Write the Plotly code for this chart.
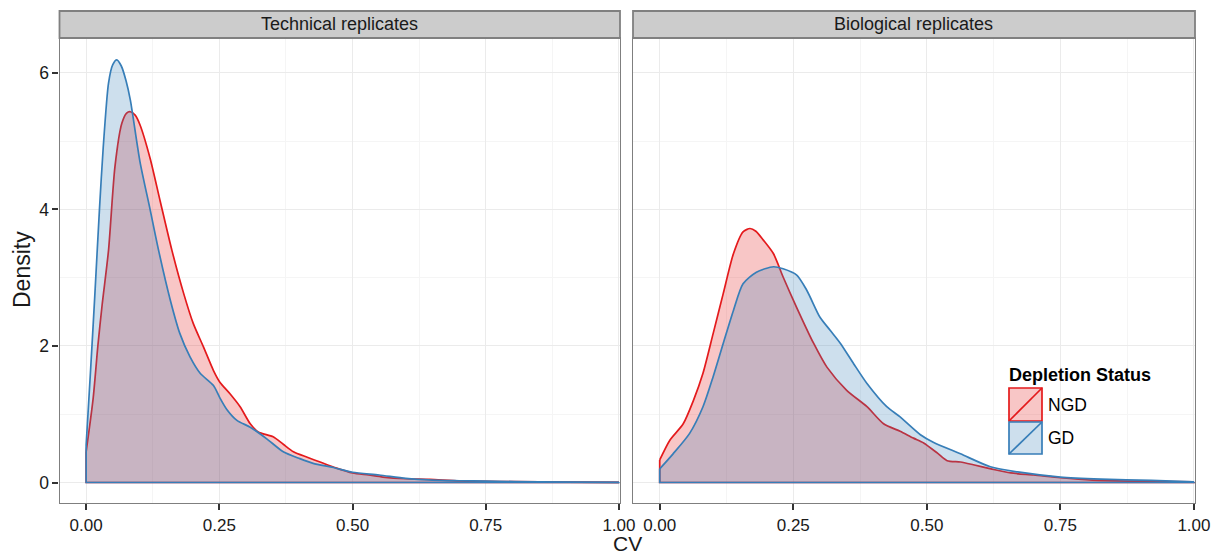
import plotly.graph_objects as go

W, H = 1215, 555
FONT = "Liberation Sans, Arial, Helvetica, sans-serif"

# ---------------- data ----------------
groups = ["NGD", "GD"]
panels = ["Technical replicates", "Biological replicates"]
x_ticks = [0.0, 0.25, 0.5, 0.75, 1.0]
x_tick_labels = ["0.00", "0.25", "0.50", "0.75", "1.00"]
y_ticks = [0, 2, 4, 6]
y_tick_labels = ["0", "2", "4", "6"]

tech_ngd_cv = [0.0, 0.013, 0.022, 0.03, 0.042, 0.054, 0.067, 0.076, 0.083, 0.092, 0.101, 0.12,
               0.139, 0.161, 0.183, 0.201, 0.22, 0.239, 0.251, 0.27, 0.289, 0.308, 0.323,
               0.351, 0.37, 0.389, 0.415, 0.439, 0.47, 0.50, 0.53, 0.557, 0.60, 0.645, 0.70,
               0.75, 0.80, 0.90, 1.0]
tech_ngd_density = [0.45, 1.22, 2.0, 2.6, 3.40, 4.62, 5.26, 5.41, 5.43, 5.38, 5.24, 4.75,
                    4.12, 3.40, 2.77, 2.33, 1.99, 1.64, 1.47, 1.30, 1.11, 0.86, 0.74,
                    0.67, 0.56, 0.45, 0.37, 0.30, 0.21, 0.14, 0.11, 0.08, 0.055, 0.045, 0.022,
                    0.016, 0.012, 0.006, 0.002]

tech_gd_cv = [0.0, 0.008, 0.016, 0.025, 0.032, 0.042, 0.05, 0.0575, 0.066, 0.075, 0.083, 0.101,
              0.12, 0.136, 0.158, 0.176, 0.195, 0.214, 0.239, 0.251, 0.264, 0.283, 0.308,
              0.339, 0.37, 0.401, 0.426, 0.464, 0.50, 0.55, 0.60, 0.65, 0.70, 0.75, 0.85, 1.0]
tech_gd_density = [0.55, 1.6, 2.7, 4.0, 4.9, 5.85, 6.12, 6.19, 6.1, 5.88, 5.6, 4.7,
                   4.0, 3.40, 2.67, 2.18, 1.84, 1.60, 1.42, 1.24, 1.07, 0.91, 0.81,
                   0.64, 0.45, 0.35, 0.28, 0.22, 0.15, 0.11, 0.06, 0.035, 0.026, 0.02, 0.01, 0.003]

bio_ngd_cv = [0.0, 0.019, 0.044, 0.063, 0.081, 0.10, 0.119, 0.138, 0.156, 0.169, 0.18, 0.194,
              0.213, 0.231, 0.256, 0.288, 0.313, 0.35, 0.388, 0.419, 0.45, 0.475, 0.494, 0.52,
              0.538, 0.563, 0.587, 0.62, 0.657, 0.70, 0.75, 0.81, 0.88, 0.95, 1.0]
bio_ngd_density = [0.33, 0.62, 0.86, 1.20, 1.60, 2.18, 2.77, 3.35, 3.67, 3.72, 3.68, 3.55,
                   3.35, 3.01, 2.57, 2.04, 1.69, 1.35, 1.11, 0.86, 0.75, 0.65, 0.58, 0.43,
                   0.32, 0.30, 0.26, 0.20, 0.14, 0.11, 0.07, 0.035, 0.02, 0.012, 0.008]

bio_gd_cv = [0.0, 0.025, 0.056, 0.081, 0.10, 0.119, 0.138, 0.156, 0.181, 0.213, 0.231, 0.256,
             0.275, 0.30, 0.319, 0.338, 0.363, 0.388, 0.425, 0.45, 0.488, 0.512, 0.563, 0.619,
             0.67, 0.75, 0.826, 0.92, 1.0]
bio_gd_density = [0.20, 0.42, 0.72, 1.11, 1.55, 2.04, 2.52, 2.91, 3.08, 3.16, 3.13, 3.04,
                  2.82, 2.42, 2.23, 2.04, 1.74, 1.45, 1.11, 0.96, 0.70, 0.59, 0.42, 0.23,
                  0.155, 0.08, 0.05, 0.03, 0.01]

series = {
    ("Technical replicates", "NGD"): (tech_ngd_cv, tech_ngd_density),
    ("Technical replicates", "GD"): (tech_gd_cv, tech_gd_density),
    ("Biological replicates", "NGD"): (bio_ngd_cv, bio_ngd_density),
    ("Biological replicates", "GD"): (bio_gd_cv, bio_gd_density),
}

line_colors = {"NGD": "#E41A1C", "GD": "#377EB8"}
fill_colors = {"NGD": "rgba(228,26,28,0.25)", "GD": "rgba(55,126,184,0.25)"}

# ---------------- layout geometry (pixels) ----------------
def xp(px):
    return px / W

def yp(py):
    return 1 - py / H

panel_x = [(59.5, 620), (633, 1195)]
panel_top, panel_bot = 38, 503
strip_top = 11
LW = 1.7

fig = go.Figure()
axis_ids = [("x", "y"), ("x2", "y2")]
for pi, panel in enumerate(panels):
    xa, ya = axis_ids[pi]
    for g in groups:
        cv, dens = series[(panel, g)]
        # filled area (no outline)
        fig.add_trace(go.Scatter(
            x=[cv[0]] + list(cv) + [cv[-1], cv[0]],
            y=[0] + list(dens) + [0, 0],
            mode="lines", fill="toself", fillcolor=fill_colors[g],
            line=dict(width=0, color=fill_colors[g]),
            xaxis=xa, yaxis=ya, showlegend=False, hoverinfo="skip", name=g,
        ))
        # outline: left edge + baseline + right edge
        fig.add_trace(go.Scatter(
            x=[cv[0], cv[0], cv[-1], cv[-1]],
            y=[dens[0], 0, 0, dens[-1]],
            mode="lines", line=dict(color=line_colors[g], width=LW),
            xaxis=xa, yaxis=ya, showlegend=False, hoverinfo="skip", name=g,
        ))
        # outline: density curve
        fig.add_trace(go.Scatter(
            x=cv, y=dens, mode="lines",
            line=dict(color=line_colors[g], width=LW, shape="spline", smoothing=0.7),
            xaxis=xa, yaxis=ya, showlegend=False, hoverinfo="skip", name=g,
        ))

grid_major = "#EBEBEB"
grid_minor = "#F5F5F5"
border = "#7F7F7F"
tickfont = dict(family=FONT, size=17, color="#1a1a1a")

def xaxis_cfg(dom, anchor):
    return dict(
        domain=[xp(dom[0]), xp(dom[1])], anchor=anchor, range=[-0.05, 1.002],
        tickmode="array", tickvals=x_ticks, ticktext=x_tick_labels,
        ticks="outside", ticklen=6, tickwidth=1.5, tickcolor="#333333",
        tickfont=tickfont, showgrid=True, gridcolor=grid_major, gridwidth=1,
        minor=dict(tickmode="array", tickvals=[0.125, 0.375, 0.625, 0.875],
                   showgrid=True, gridcolor=grid_minor, gridwidth=1, ticks=""),
        showline=True, linecolor=border, linewidth=1.2, mirror=True, zeroline=False,
        automargin=False,
    )

def yaxis_cfg(anchor, labels):
    d = dict(
        domain=[yp(panel_bot), yp(panel_top)], anchor=anchor, range=[-0.30, 6.51],
        tickmode="array", tickvals=y_ticks, ticktext=y_tick_labels,
        showgrid=True, gridcolor=grid_major, gridwidth=1,
        minor=dict(tickmode="array", tickvals=[1, 3, 5],
                   showgrid=True, gridcolor=grid_minor, gridwidth=1, ticks=""),
        showline=True, linecolor=border, linewidth=1.2, mirror=True, zeroline=False,
        automargin=False,
    )
    if labels:
        d.update(ticks="outside", ticklen=6, tickwidth=1.5, tickcolor="#333333",
                 tickfont=dict(family=FONT, size=17.5, color="#1a1a1a"), showticklabels=True)
    else:
        d.update(ticks="", showticklabels=False, matches="y")
    return d

fig.update_layout(
    width=W, height=H, autosize=False, margin=dict(l=0, r=0, t=0, b=0, pad=0),
    paper_bgcolor="white", plot_bgcolor="white",
    xaxis=xaxis_cfg(panel_x[0], "y"),
    xaxis2=xaxis_cfg(panel_x[1], "y2"),
    yaxis=yaxis_cfg("x", True),
    yaxis2=yaxis_cfg("x2", False),
    showlegend=False,
    font=dict(family=FONT, color="#1a1a1a"),
)

shapes = []
annotations = []
# strips
for pi, panel in enumerate(panels):
    x0, x1 = panel_x[pi]
    shapes.append(dict(type="rect", xref="paper", yref="paper",
                       x0=xp(x0), x1=xp(x1), y0=yp(panel_top), y1=yp(strip_top),
                       fillcolor="#CCCCCC", line=dict(color="#808080", width=1.8), layer="above"))
    annotations.append(dict(xref="paper", yref="paper", x=xp((x0 + x1) / 2),
                            y=yp((panel_top + strip_top) / 2), text=panel, showarrow=False,
                            font=dict(family=FONT, size=18, color="#1a1a1a"),
                            xanchor="center", yanchor="middle"))

# axis titles
annotations.append(dict(xref="paper", yref="paper", x=xp(627), y=yp(556), text="CV",
                        showarrow=False, font=dict(family=FONT, size=21, color="#1a1a1a"),
                        xanchor="center", yanchor="bottom", borderpad=0))
annotations.append(dict(xref="paper", yref="paper", x=xp(22), y=yp(270), text="Density",
                        showarrow=False, textangle=-90,
                        font=dict(family=FONT, size=23, color="#1a1a1a"),
                        xanchor="center", yanchor="middle"))

# legend (drawn manually, ggplot style)
annotations.append(dict(xref="paper", yref="paper", x=xp(1007), y=yp(375),
                        text="<b>Depletion Status</b>", showarrow=False,
                        font=dict(family=FONT, size=18, color="#000000"),
                        xanchor="left", yanchor="middle"))
key_x0, key_x1 = 1009, 1042
key_rows = [(388, 421), (422, 454)]
for g, (ky0, ky1) in zip(groups, key_rows):
    shapes.append(dict(type="rect", xref="paper", yref="paper",
                       x0=xp(key_x0), x1=xp(key_x1), y0=yp(ky1), y1=yp(ky0),
                       fillcolor=fill_colors[g], line=dict(color=line_colors[g], width=1.7)))
    shapes.append(dict(type="line", xref="paper", yref="paper",
                       x0=xp(key_x0), x1=xp(key_x1), y0=yp(ky1), y1=yp(ky0),
                       line=dict(color=line_colors[g], width=1.7)))
    annotations.append(dict(xref="paper", yref="paper", x=xp(1046), y=yp((ky0 + ky1) / 2),
                            text=g, showarrow=False,
                            font=dict(family=FONT, size=17.5, color="#000000"),
                            xanchor="left", yanchor="middle"))

fig.update_layout(shapes=shapes, annotations=annotations)

post = ("document.documentElement.style.margin='0';document.documentElement.style.overflow='hidden';"
        "document.body.style.margin='0';document.body.style.overflow='hidden';")
fig.write_html("out.html", config={"responsive": False}, post_script=post)
